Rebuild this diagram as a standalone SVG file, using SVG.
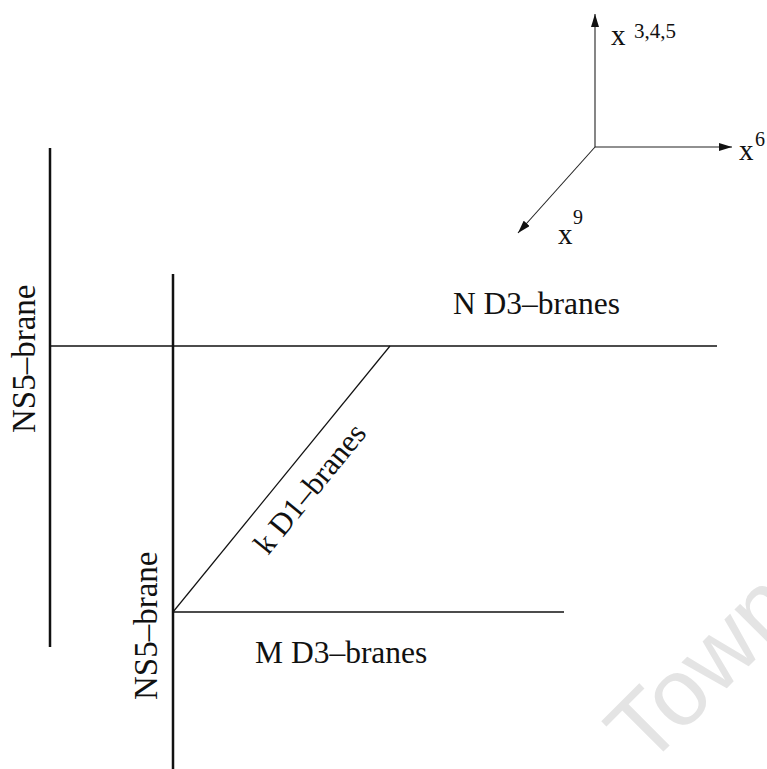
<svg xmlns="http://www.w3.org/2000/svg" width="767" height="769" viewBox="0 0 767 769">
  <style>
    .lbl { font-family: "Liberation Serif", "Times New Roman", serif; fill: #111; }
    .brane { stroke: #111; fill: none; }
    .ns5 { stroke-width: 2.5; }
    .d3 { stroke-width: 1.6; }
    .d1 { stroke-width: 1.2; }
    .axis { stroke: #222; stroke-width: 1.1; fill: none; }
    .wm { font-family: "Liberation Sans", Arial, sans-serif; fill: #e4e4e4; }
  </style>
  <defs>
    <marker id="arrow" markerUnits="userSpaceOnUse" markerWidth="14" markerHeight="8" refX="13" refY="4" orient="auto">
      <path d="M0,0 L13,4 L0,8 Z" fill="#111"/>
    </marker>
  </defs>

  <!-- watermark -->
  <text class="wm" font-size="95" transform="translate(646,769) rotate(-45)">Town</text>

  <g id="connectors">
    <line id="ns5-left" class="brane ns5" x1="50" y1="148" x2="50" y2="647"/>
    <line id="ns5-right" class="brane ns5" x1="173" y1="274" x2="173" y2="769"/>
    <line id="n-d3" class="brane d3" x1="50" y1="346" x2="717" y2="346"/>
    <line id="m-d3" class="brane d3" x1="173" y1="612" x2="564" y2="612"/>
    <line id="k-d1" class="brane d1" x1="173" y1="612" x2="390" y2="346"/>
  </g>

  <g id="axes">
    <line class="axis" x1="595" y1="147" x2="595" y2="14" marker-end="url(#arrow)"/>
    <line class="axis" x1="595" y1="147" x2="732" y2="147" marker-end="url(#arrow)"/>
    <line class="axis" x1="595" y1="147" x2="518" y2="233" marker-end="url(#arrow)"/>
    <text class="lbl" x="611" y="45" font-size="29">x</text>
    <text class="lbl" x="634" y="38" font-size="21">3,4,5</text>
    <text class="lbl" x="739" y="160" font-size="29">x</text>
    <text class="lbl" x="755" y="146" font-size="20">6</text>
    <text class="lbl" x="558" y="244" font-size="29">x</text>
    <text class="lbl" x="573" y="224" font-size="20">9</text>
  </g>

  <g id="node-ns5-left">
    <text class="lbl" font-size="33" transform="translate(35,433) rotate(-90)">NS5–brane</text>
  </g>
  <g id="node-ns5-right">
    <text class="lbl" font-size="33" transform="translate(157,700) rotate(-90)">NS5–brane</text>
  </g>
  <g id="node-n-d3">
    <text class="lbl" x="453" y="314" font-size="31.5">N D3–branes</text>
  </g>
  <g id="node-m-d3">
    <text class="lbl" x="255" y="663" font-size="31.5">M D3–branes</text>
  </g>
  <g id="node-k-d1">
    <text class="lbl" font-size="31" transform="translate(268,556) rotate(-50.8)">k D1–branes</text>
  </g>
</svg>
